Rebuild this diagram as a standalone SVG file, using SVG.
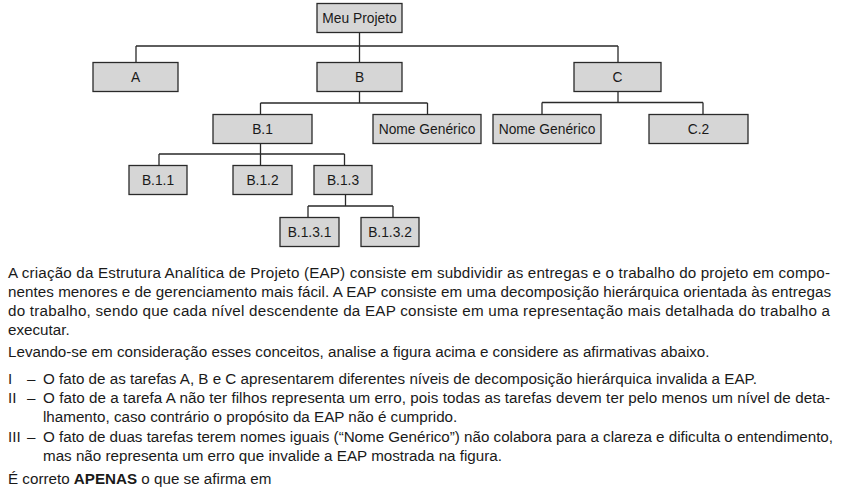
<svg xmlns="http://www.w3.org/2000/svg" width="843" height="490" viewBox="0 0 843 490">
  <style>
    .box rect { fill: #d6d6d6; stroke: #2a2a2a; stroke-width: 1.3; }
    .box text { font-family: "Liberation Sans", Arial, sans-serif; font-size: 13.8px; fill: #1a1a1a; text-anchor: middle; }
    .conn path { fill: none; stroke: #2a2a2a; stroke-width: 1.3; }
    .body { font-family: "Liberation Sans", Arial, sans-serif; font-size: 15.2px; fill: #1a1a1a; }
  </style>
  <rect x="0" y="0" width="843" height="490" fill="#ffffff"/>
  <g class="conn" id="connectors">
    <path d="M359.5 32 V46 M136 46 H618 M136 46 V62 M359.5 46 V62 M618 46 V62"/>
    <path d="M359.5 91 V103 M260.5 103 H427.5 M260.5 103 V114 M427.5 103 V114"/>
    <path d="M618 91 V102.5 M542 102.5 H703 M542 102.5 V114 M703 102.5 V114"/>
    <path d="M260.5 143 V154 M159 154 H344.5 M159 154 V165 M260.5 154 V165 M344.5 154 V165"/>
    <path d="M345.5 194 V206 M308 206 H393 M308 206 V217 M393 206 V217"/>
  </g>
  <g class="box" id="node-root"><rect x="317" y="3.5" width="85" height="29"/><text x="359.5" y="23">Meu Projeto</text></g>
  <g class="box" id="node-A"><rect x="93" y="62.5" width="85" height="29"/><text x="135.5" y="82">A</text></g>
  <g class="box" id="node-B"><rect x="317" y="62.5" width="85" height="29"/><text x="359.5" y="82">B</text></g>
  <g class="box" id="node-C"><rect x="574" y="62.5" width="87" height="29"/><text x="617.5" y="82">C</text></g>
  <g class="box" id="node-B1"><rect x="213" y="114.5" width="99" height="29"/><text x="262.5" y="134">B.1</text></g>
  <g class="box" id="node-NG1"><rect x="373" y="114.5" width="108" height="29"/><text x="427" y="134">Nome Genérico</text></g>
  <g class="box" id="node-NG2"><rect x="493" y="114.5" width="108" height="29"/><text x="547" y="134">Nome Genérico</text></g>
  <g class="box" id="node-C2"><rect x="649" y="114.5" width="99" height="29"/><text x="698.5" y="134">C.2</text></g>
  <g class="box" id="node-B11"><rect x="129" y="165.5" width="58" height="29"/><text x="158" y="185">B.1.1</text></g>
  <g class="box" id="node-B12"><rect x="233" y="165.5" width="59" height="29"/><text x="262.5" y="185">B.1.2</text></g>
  <g class="box" id="node-B13"><rect x="314" y="165.5" width="58" height="29"/><text x="343" y="185">B.1.3</text></g>
  <g class="box" id="node-B131"><rect x="280" y="217.5" width="59" height="29"/><text x="309.5" y="237">B.1.3.1</text></g>
  <g class="box" id="node-B132"><rect x="361" y="217.5" width="58" height="29"/><text x="390" y="237">B.1.3.2</text></g>
  <g id="text" class="body">
    <text x="8" y="278" textLength="822">A criação da Estrutura Analítica de Projeto (EAP) consiste em subdividir as entregas e o trabalho do projeto em compo-</text>
    <text x="8" y="297" textLength="823">nentes menores e de gerenciamento mais fácil. A EAP consiste em uma decomposição hierárquica orientada às entregas</text>
    <text x="8" y="316" textLength="822">do trabalho, sendo que cada nível descendente da EAP consiste em uma representação mais detalhada do trabalho a</text>
    <text x="8" y="335">executar.</text>
    <text x="8" y="357">Levando-se em consideração esses conceitos, analise a figura acima e considere as afirmativas abaixo.</text>
    <text x="8" y="384">I</text><text x="27" y="384">–</text>
    <text x="43" y="384">O fato de as tarefas A, B e C apresentarem diferentes níveis de decomposição hierárquica invalida a EAP.</text>
    <text x="8" y="403">II</text><text x="27" y="403">–</text>
    <text x="43" y="403" textLength="787">O fato de a tarefa A não ter filhos representa um erro, pois todas as tarefas devem ter pelo menos um nível de deta-</text>
    <text x="43" y="422">lhamento, caso contrário o propósito da EAP não é cumprido.</text>
    <text x="8" y="442">III</text><text x="27" y="442">–</text>
    <text x="43" y="442" textLength="790">O fato de duas tarefas terem nomes iguais (“Nome Genérico”) não colabora para a clareza e dificulta o entendimento,</text>
    <text x="43" y="461">mas não representa um erro que invalide a EAP mostrada na figura.</text>
    <text x="8" y="484">É correto <tspan font-weight="bold">APENAS</tspan> o que se afirma em</text>
  </g>
</svg>
